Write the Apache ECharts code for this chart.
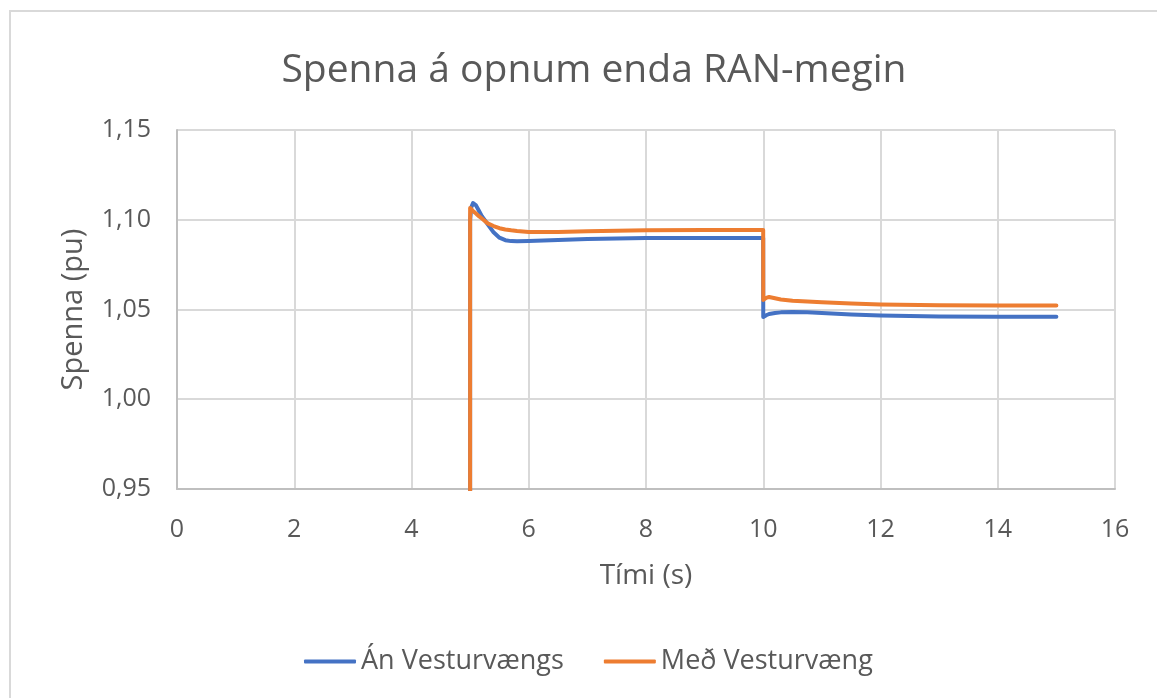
<!DOCTYPE html>
<html>
<head>
<meta charset="utf-8">
<script src="https://cdn.jsdelivr.net/npm/echarts@6/dist/echarts.min.js"></script>
<style>
  html, body { margin: 0; padding: 0; background: #ffffff; }
  #chart { width: 1157px; height: 698px; }
</style>
</head>
<body>
<div id="chart"></div>
<script>
// Time samples (s)
const timeS = [0, 4.999, 5.0, 5.02, 5.05, 5.1, 5.15, 5.2, 5.3, 5.4, 5.5, 5.6, 5.7, 5.8, 6.0, 6.5, 7.0, 8.0, 9.0, 9.999,
  10.0, 10.05, 10.1, 10.2, 10.3, 10.5, 10.75, 11.0, 11.5, 12.0, 13.0, 14.0, 15.0];

// Voltage at the open end without the west wing (pu)
const anVesturvaengs = [0, 0, 1.100, 1.107, 1.1093, 1.108, 1.105, 1.102, 1.0975, 1.093, 1.0900, 1.0886, 1.0881, 1.0880,
  1.0881, 1.0887, 1.0893, 1.0898, 1.0899, 1.0899,
  1.0458, 1.0468, 1.0475, 1.0481, 1.0484, 1.0486, 1.0484, 1.0480, 1.0472, 1.0466, 1.0461, 1.0460, 1.0460];

// Voltage at the open end with the west wing (pu)
const medVesturvaeng = [0, 0, 1.1066, 1.1058, 1.1048, 1.1035, 1.102, 1.1007, 1.098, 1.0965, 1.0953, 1.0946, 1.0941, 1.0937,
  1.0932, 1.0932, 1.0936, 1.0941, 1.0943, 1.0943,
  1.0553, 1.0565, 1.0570, 1.0563, 1.0556, 1.0549, 1.0544, 1.0540, 1.0533, 1.0528, 1.0524, 1.0522, 1.0522];

const seriesNames = ['Án Vesturvængs', 'Með Vesturvæng'];
const seriesColors = ['#4472C4', '#ED7D31'];

const titleText = 'Spenna á opnum enda RAN-megin';
const xAxisName = 'Tími (s)';
const yAxisName = 'Spenna (pu)';

const FONT = 'Open Sans';
const TXT = '#595959';

function pairs(values) {
  return timeS.map((t, i) => [t, values[i]]);
}

const chart = echarts.init(document.getElementById('chart'), null, { renderer: 'canvas' });

chart.setOption({
  animation: false,
  backgroundColor: '#ffffff',
  graphic: [{
    type: 'rect',
    shape: { x: 10, y: 11, width: 1300, height: 900 },
    style: { fill: 'none', stroke: '#d9d9d9', lineWidth: 2 },
    silent: true,
    z: -10
  }],
  title: {
    text: titleText,
    left: 589,
    top: 46,
    textAlign: 'center',
    textStyle: { fontFamily: FONT, fontSize: 39, fontWeight: 'normal', color: TXT }
  },
  legend: {
    left: 299,
    top: 643,
    itemWidth: 52,
    itemHeight: 4,
    itemGap: 40,
    icon: 'roundRect',
    textStyle: { fontFamily: FONT, fontSize: 27, color: TXT },
    data: seriesNames
  },
  grid: { left: 177, right: 42, top: 130, bottom: 209 },
  xAxis: {
    type: 'value',
    min: 0,
    max: 16,
    interval: 2,
    name: xAxisName,
    nameLocation: 'middle',
    nameGap: 73,
    nameTextStyle: { fontFamily: FONT, fontSize: 28, color: TXT },
    axisLine: { show: true, lineStyle: { color: '#bfbfbf', width: 2 } },
    axisTick: { show: false },
    axisLabel: { margin: 28, fontFamily: FONT, fontSize: 25, color: TXT },
    splitLine: { show: true, lineStyle: { color: '#d9d9d9', width: 2 } }
  },
  yAxis: {
    type: 'value',
    min: 0.95,
    max: 1.15,
    interval: 0.05,
    name: yAxisName,
    nameLocation: 'middle',
    nameGap: 89,
    nameRotate: 90,
    nameTextStyle: { fontFamily: FONT, fontSize: 29, color: TXT },
    axisLine: { show: true, lineStyle: { color: '#bfbfbf', width: 2 } },
    axisTick: { show: false },
    axisLabel: {
      margin: 26,
      fontFamily: FONT, fontSize: 25, color: TXT,
      formatter: v => v.toFixed(2).replace('.', ',')
    },
    splitLine: { show: true, lineStyle: { color: '#d9d9d9', width: 2 } }
  },
  series: [
    {
      name: seriesNames[0],
      type: 'line',
      data: pairs(anVesturvaengs),
      showSymbol: false,
      symbol: 'none',
      clip: true,
      color: seriesColors[0],
      lineStyle: { width: 4, color: seriesColors[0], cap: 'round', join: 'round' }
    },
    {
      name: seriesNames[1],
      type: 'line',
      data: pairs(medVesturvaeng),
      showSymbol: false,
      symbol: 'none',
      clip: true,
      color: seriesColors[1],
      lineStyle: { width: 4, color: seriesColors[1], cap: 'round', join: 'round' }
    }
  ]
});
</script>
</body>
</html>
